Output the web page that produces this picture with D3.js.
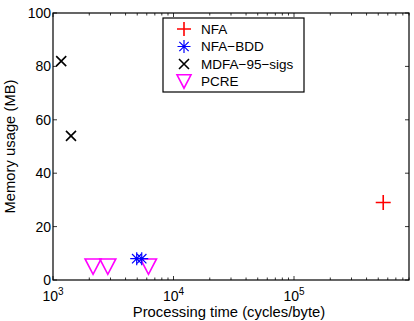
<!DOCTYPE html>
<html>
<head>
<meta charset="utf-8">
<script src="https://cdn.jsdelivr.net/npm/d3@7"></script>
<style>
  body { margin: 0; background: #fff; }
  text { font-family: "Liberation Sans", Arial, sans-serif; }
</style>
</head>
<body>
<div id="chart"></div>
<script>
// series data (processing time in cycles/byte, memory in MB)
var nfaX = [550000];
var nfaY = [29];
var bddX = [4950, 5450];
var bddY = [8, 8];
var mdfaX = [1170, 1410];
var mdfaY = [82, 54];
var pcreX = [2150, 2850, 6200];
var pcreY = [5, 5, 5];

var yTicks = [0, 20, 40, 60, 80, 100];
var xDecades = [3, 4, 5];
var legendNames = ["NFA", "NFA\u2212BDD", "MDFA\u221295\u2212sigs", "PCRE"];

var W = 414, H = 321;
var margin = { top: 13, right: 5, bottom: 41, left: 53 },
  width = W - margin.left - margin.right,
  height = H - margin.top - margin.bottom;

var svg = d3.select("#chart").append("svg")
  .attr("width", W)
  .attr("height", H);

var g = svg.append("g")
  .attr("transform", "translate(" + margin.left + "," + margin.top + ")");

var x = d3.scaleLog().domain([1000, 900000]).range([0, width]);
var y = d3.scaleLinear().domain([0, 100]).range([height, 0]);

// minor ticks for log axis
var minor = [];
xDecades.forEach(function (e) {
  for (var k = 2; k <= 9; k++) {
    var v = k * Math.pow(10, e);
    if (v <= 900000) minor.push(v);
  }
});
var major = xDecades.map(function (e) { return Math.pow(10, e); });

// ticks (inside, both sides, MATLAB style)
var tk = g.append("g").attr("stroke", "#000").attr("stroke-width", 0.8);
major.forEach(function (v) {
  tk.append("line").attr("x1", x(v)).attr("x2", x(v)).attr("y1", height).attr("y2", height - 4);
  tk.append("line").attr("x1", x(v)).attr("x2", x(v)).attr("y1", 0).attr("y2", 4);
});
minor.forEach(function (v) {
  tk.append("line").attr("x1", x(v)).attr("x2", x(v)).attr("y1", height).attr("y2", height - 2.5);
  tk.append("line").attr("x1", x(v)).attr("x2", x(v)).attr("y1", 0).attr("y2", 2.5);
});
yTicks.forEach(function (v) {
  tk.append("line").attr("x1", 0).attr("x2", 4).attr("y1", y(v)).attr("y2", y(v));
  tk.append("line").attr("x1", width).attr("x2", width - 4).attr("y1", y(v)).attr("y2", y(v));
});

// box
g.append("rect")
  .attr("width", width).attr("height", height)
  .attr("fill", "none").attr("stroke", "#000").attr("stroke-width", 1.2);

// y tick labels
g.selectAll(".ylab").data(yTicks).enter().append("text")
  .attr("x", -2).attr("y", function (d) { return y(d); })
  .attr("dy", "0.36em").attr("text-anchor", "end")
  .attr("font-size", 14).text(function (d) { return d; });

// x tick labels 10^n
var xl = g.selectAll(".xlab").data(xDecades).enter().append("text")
  .attr("x", function (d) { return x(Math.pow(10, d)); })
  .attr("y", height + 21)
  .attr("text-anchor", "middle")
  .attr("font-size", 14);
xl.append("tspan").text("10");
xl.append("tspan").attr("dy", -6).attr("font-size", 10).text(function (d) { return d; });

// axis labels
g.append("text")
  .attr("x", width / 2 - 2).attr("y", height + 37)
  .attr("text-anchor", "middle").attr("font-size", 14.8)
  .text("Processing time (cycles/byte)");
g.append("text")
  .attr("transform", "translate(" + (-38) + "," + (height / 2) + ") rotate(-90)")
  .attr("text-anchor", "middle").attr("font-size", 14.8)
  .text("Memory usage (MB)");

// marker drawing helpers
function plus(sel, s, color) {
  sel.append("path").attr("d", "M" + (-s / 2) + ",0H" + (s / 2) + "M0," + (-s / 2) + "V" + (s / 2))
    .attr("stroke", color).attr("stroke-width", 1.6).attr("fill", "none");
}
function cross(sel, s, color) {
  var h = s / 2;
  sel.append("path").attr("d", "M" + -h + "," + -h + "L" + h + "," + h + "M" + -h + "," + h + "L" + h + "," + -h)
    .attr("stroke", color).attr("stroke-width", 1.6).attr("fill", "none");
}
function star(sel, s, color) {
  var h = s / 2, d = h * 0.72;
  sel.append("path").attr("d", "M" + -h + ",0H" + h + "M0," + -h + "V" + h +
      "M" + -d + "," + -d + "L" + d + "," + d + "M" + -d + "," + d + "L" + d + "," + -d)
    .attr("stroke", color).attr("stroke-width", 1.2).attr("fill", "none");
}
function tri(sel, s, color) {
  var w = s / 2, h = s * 0.48;
  sel.append("path").attr("d", "M" + -w + "," + -h + "L" + w + "," + -h + "L0," + h + "Z")
    .attr("stroke", color).attr("stroke-width", 1.6).attr("fill", "none");
}

function series(xs, ys, fn, s, color) {
  xs.forEach(function (xv, i) {
    var m = g.append("g").attr("transform", "translate(" + x(xv) + "," + y(ys[i]) + ")");
    fn(m, s, color);
  });
}

series(pcreX, pcreY, tri, 16, "#ff00ff");
series(bddX, bddY, star, 13, "#0000ff");
series(mdfaX, mdfaY, cross, 10, "#000");
series(nfaX, nfaY, plus, 15, "#ff0000");

// legend
var leg = svg.append("g").attr("transform", "translate(163,18)");
leg.append("rect").attr("width", 141).attr("height", 74)
  .attr("fill", "#fff").attr("stroke", "#000").attr("stroke-width", 1.2);
var legFns = [plus, star, cross, tri];
var legColors = ["#ff0000", "#0000ff", "#000", "#ff00ff"];
var legSizes = [14, 13, 10, 14];
legendNames.forEach(function (name, i) {
  var cy = 11 + i * 17.5;
  var m = leg.append("g").attr("transform", "translate(21," + cy + ")");
  legFns[i](m, legSizes[i], legColors[i]);
  leg.append("text").attr("x", 38).attr("y", cy).attr("dy", "0.36em")
    .attr("font-size", 13.5).text(name);
});
</script>
</body>
</html>
